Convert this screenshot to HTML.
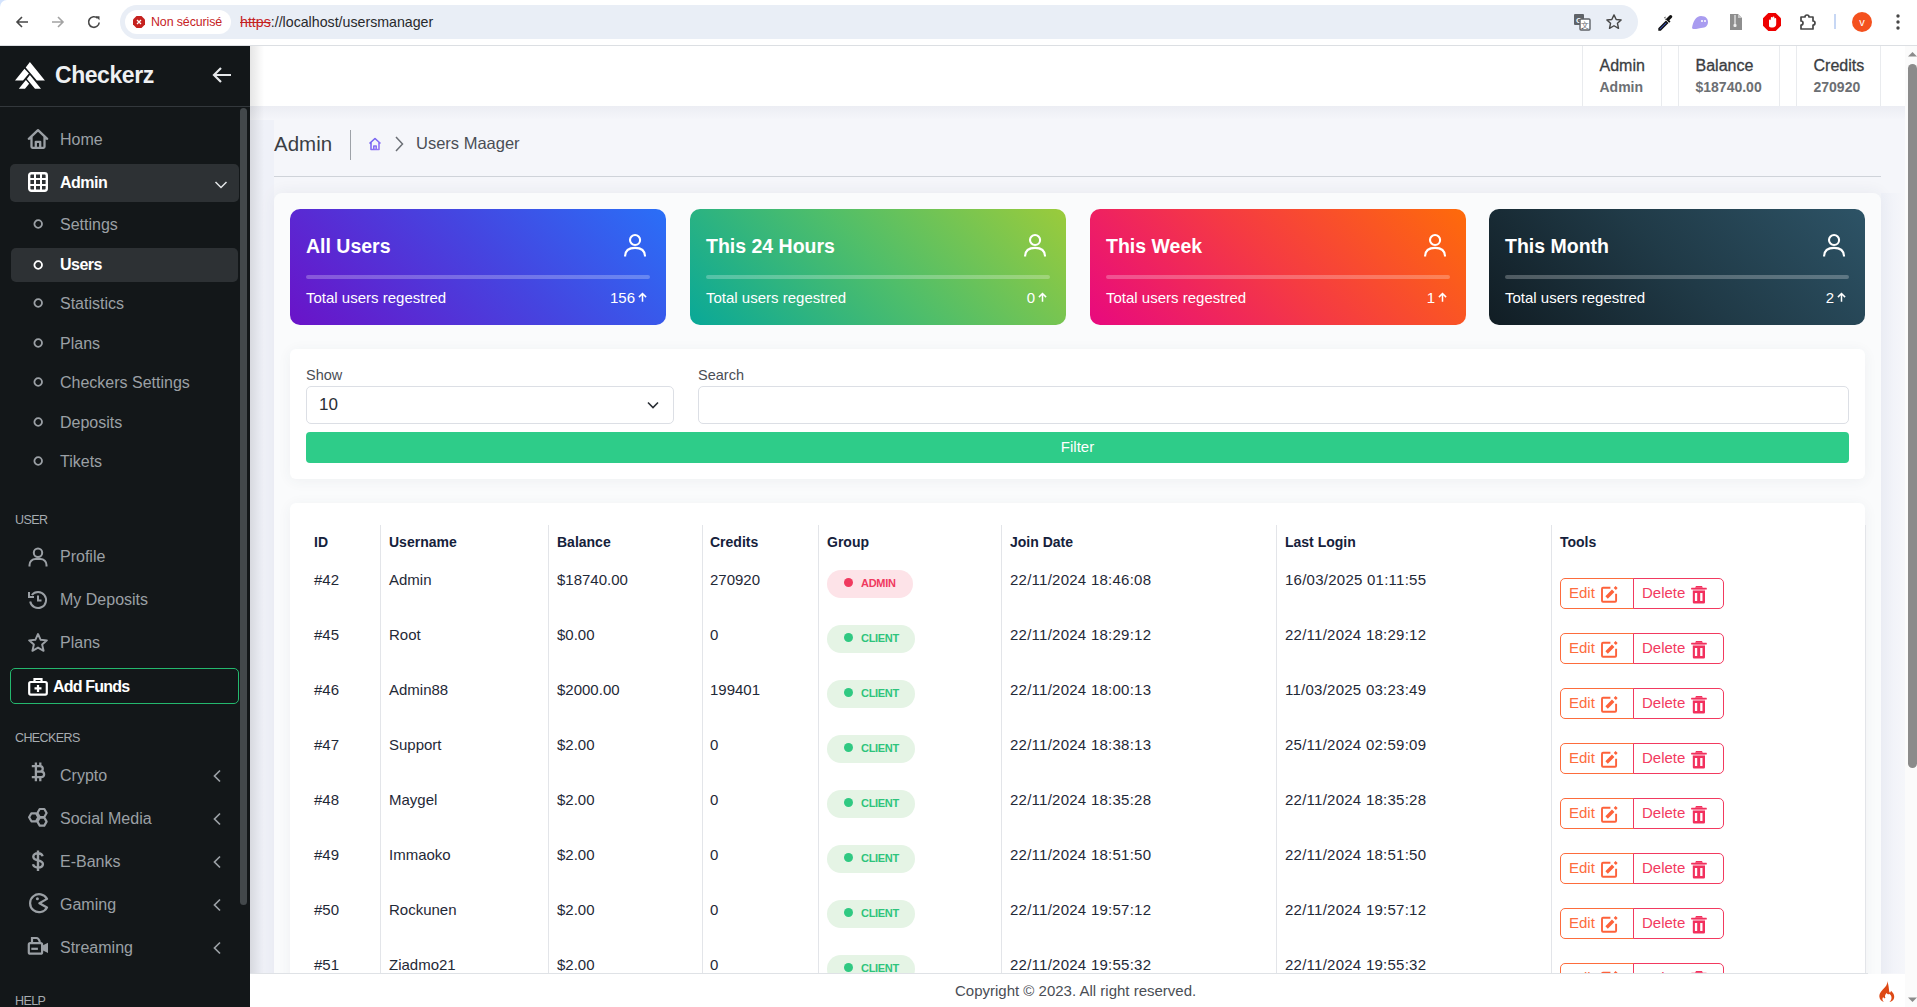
<!DOCTYPE html>
<html><head><meta charset="utf-8">
<style>
*{box-sizing:border-box;margin:0;padding:0}
html,body{width:1917px;height:1007px;overflow:hidden;background:#f5f6fa;font-family:"Liberation Sans",sans-serif}
.a{position:absolute}
#chrome{left:0;top:0;width:1917px;height:46px;background:#fff;border-bottom:1px solid #dcdfe3;border-top-left-radius:7px}
#url{left:120px;top:5px;width:1518px;height:34px;border-radius:17px;background:#e9eef6}
#chip{left:125px;top:10px;width:106px;height:24px;border-radius:12px;background:#fff}
#side{left:0;top:46px;width:250px;height:961px;background:#131719}
#sidehead{left:0;top:0;width:250px;height:61px;border-bottom:1px solid #33383c}
.si{position:absolute;left:10px;width:229px;height:37px;border-radius:5px;color:#9ba0a5;font-size:16px}
.si span{position:absolute;left:50px;top:50%;transform:translateY(-50%);white-space:nowrap}
.si svg{position:absolute}
.act{background:#2d3134;color:#fff;font-weight:bold;letter-spacing:-0.5px}
.sec{position:absolute;left:15px;font-size:12.5px;letter-spacing:-0.6px;color:#a7acb1;margin-top:1px}
#nav{left:250px;top:46px;width:1655px;height:60px;background:#fff}
.ui{position:absolute;top:0;height:60px;border-left:1px solid #e9ebee;border-right:1px solid #e9ebee}
.ui .t{position:absolute;left:16.5px;top:11px;font-size:16px;color:#3a3d42;-webkit-text-stroke:0.3px #3a3d42;white-space:nowrap}
.ui .v{position:absolute;left:16.5px;top:32.5px;font-size:14px;color:#6c6f73;font-weight:bold;white-space:nowrap}
.card{position:absolute;top:209px;width:376px;height:116px;border-radius:10px;color:#fff}
.card .h{position:absolute;left:16px;top:26px;font-size:19.5px;font-weight:bold;white-space:nowrap}
.card .bar{position:absolute;left:16px;top:66px;width:344px;height:4px;border-radius:2px;background:rgba(255,255,255,0.25)}
.card .ft{position:absolute;left:16px;top:80px;font-size:15px;white-space:nowrap}
.card .n{position:absolute;right:19px;top:80px;font-size:15px;white-space:nowrap}
.card svg{position:absolute}
.wc{position:absolute;background:#fff;border-radius:6px;box-shadow:0 2px 14px rgba(50,60,90,0.06)}
.th{position:absolute;top:534px;font-size:14px;font-weight:bold;color:#15213b;white-space:nowrap}
.td{position:absolute;font-size:15px;color:#1f2937;white-space:nowrap}
.vl{position:absolute;top:525px;width:1px;height:449px;background:#e3e5e9}
.bdg{position:absolute;left:827px;height:28px;border-radius:14px;font-size:11px;font-weight:bold;letter-spacing:-0.3px}
.bdg i{position:absolute;left:17px;top:8px;width:9px;height:9px;border-radius:50%}
.bdg b{position:absolute;left:34px;top:7px}
.adm{width:86px;background:#fde3e8;color:#f03a5f}
.adm i{background:#f03a5f}
.cli{width:88px;background:#e5f4e5;color:#2ec47c}
.cli i{background:#30c982}
.eb{position:absolute;left:1560px;width:74px;height:31px;border:1.5px solid #fd6c3d;border-radius:5px 0 0 5px;color:#fd6c3d;font-size:15px}
.db{position:absolute;left:1633px;width:91px;height:31px;border:1.5px solid #f23a60;border-radius:0 5px 5px 0;color:#f23a60;font-size:15px}
.eb span,.db span{position:absolute;left:8px;top:5px}
.eb svg,.db svg{position:absolute}
#pscroll{left:1905px;top:46px;width:12px;height:961px;background:#fbfbfb}
#pthumb{left:1908px;top:64px;width:9px;height:704px;border-radius:4.5px;background:#8b8b8b}
</style></head><body>
<div class="a" style="left:0;top:0;width:10px;height:10px;background:#d3e3fd"></div><div id="chrome" class="a"></div>
<svg class="a" style="left:14px;top:14px" width="16" height="16" viewBox="0 0 16 16"><path d="M14 8H3M8 3L3 8l5 5" fill="none" stroke="#474747" stroke-width="1.6"/></svg>
<svg class="a" style="left:50px;top:14px" width="16" height="16" viewBox="0 0 16 16"><path d="M2 8h11M8 3l5 5-5 5" fill="none" stroke="#a3a3a3" stroke-width="1.6"/></svg>
<svg class="a" style="left:86px;top:14px" width="16" height="16" viewBox="0 0 16 16"><path d="M13.2 8.5A5.3 5.3 0 1 1 11.6 4.2" fill="none" stroke="#474747" stroke-width="1.6"/><path d="M9.5 2.2h4v4z" fill="#474747"/></svg>
<div id="url" class="a"></div>
<div id="chip" class="a"></div>
<svg class="a" style="left:133px;top:16px" width="12" height="12" viewBox="0 0 12 12"><path d="M3.5 0h5L12 3.5v5L8.5 12h-5L0 8.5v-5z" fill="#c5221f"/><path d="M4 4l4 4M8 4l-4 4" stroke="#fff" stroke-width="1.3"/></svg>
<div class="a" style="left:151px;top:15px;font-size:12.4px;color:#c5221f;letter-spacing:-0.1px">Non sécurisé</div>
<div class="a" style="left:240px;top:14px;font-size:14.2px;color:#28292c"><span style="color:#c5221f;text-decoration:line-through">https</span>://localhost/usersmanager</div>
<svg class="a" style="left:1573px;top:13px" width="18" height="18" viewBox="0 0 18 18"><rect x="1" y="1" width="10" height="11" rx="1" fill="#5f6368"/><text x="6" y="10" font-size="8" fill="#fff" font-family="Liberation Sans" text-anchor="middle" font-weight="bold">G</text><rect x="7" y="6" width="10" height="11" rx="1" fill="#fff" stroke="#5f6368" stroke-width="1.4"/><text x="12" y="15" font-size="8" fill="#5f6368" font-family="Liberation Sans" text-anchor="middle">文</text></svg>
<svg class="a" style="left:1605px;top:13px" width="18" height="18" viewBox="0 0 24 24"><path d="M12 2.5l2.9 6.1 6.6.7-4.9 4.5 1.4 6.6L12 17l-6 3.4 1.4-6.6-4.9-4.5 6.6-.7z" fill="none" stroke="#474747" stroke-width="1.9" stroke-linejoin="round"/></svg>
<svg class="a" style="left:1656px;top:13px" width="18" height="18" viewBox="0 0 18 18"><path d="M3 15.5L10 8.5l1.5 1.5-7 7H3z" fill="#3b5bdb" stroke="#111" stroke-width="1.4"/><path d="M9 7l2-2 2.5-2.5a1.6 1.6 0 0 1 2.3 2.3L13.3 7.3l1.2 1.2-1.3 1.3-5-5 1.3-1.3z" fill="#111"/></svg>
<svg class="a" style="left:1691px;top:14px" width="18" height="16" viewBox="0 0 18 16"><path d="M1 14C2 7 5 2 10 2s7 3 7 6-2 6-7 6c-2 0-3 1-5 1S1 15 1 14z" fill="#a99cf0"/><circle cx="11" cy="7" r="1" fill="#fff"/><circle cx="14" cy="7" r="1" fill="#fff"/></svg>
<svg class="a" style="left:1729px;top:13px" width="14" height="18" viewBox="0 0 14 18"><path d="M1 1h8l4 4v12H1z" fill="#8e8e8e"/><path d="M9 1v4h4" fill="#c8c8c8"/><rect x="5" y="2" width="2" height="9" fill="#c8c8c8"/><rect x="4.5" y="11" width="3" height="3" rx="1" fill="#eee"/></svg>
<svg class="a" style="left:1763px;top:13px" width="18" height="18" viewBox="0 0 18 18"><path d="M5.3 0h7.4L18 5.3v7.4L12.7 18H5.3L0 12.7V5.3z" fill="#e00"/><path d="M6 13V7.5a.9.9 0 0 1 1.8 0V5a.9.9 0 0 1 1.8 0v2-2.5a.9.9 0 0 1 1.8 0V6a.9.9 0 0 1 1.8 0v5c0 2-1.5 3.5-3.5 3.5S6 14 6 13z" fill="#fff"/></svg>
<svg class="a" style="left:1799px;top:13px" width="20" height="18" viewBox="0 0 20 18"><path d="M2 4h4a2 2 0 0 1 4 0h4v4a2 2 0 0 1 0 4v4H2V12a2 2 0 0 0 0-4z" fill="none" stroke="#474747" stroke-width="1.7" stroke-linejoin="round"/></svg>
<div class="a" style="left:1834px;top:14px;width:2px;height:15px;background:#c7d7f4"></div>
<div class="a" style="left:1852px;top:12px;width:20px;height:20px;border-radius:50%;background:#f4511e;color:#fff;font-size:11px;text-align:center;line-height:20px">v</div>
<svg class="a" style="left:1895px;top:13px" width="6" height="18" viewBox="0 0 6 18"><circle cx="3" cy="3" r="1.7" fill="#474747"/><circle cx="3" cy="9" r="1.7" fill="#474747"/><circle cx="3" cy="15" r="1.7" fill="#474747"/></svg>
<div id="side" class="a">
  <div id="sidehead" class="a"></div>
<svg class="a" style="left:14px;top:15px" width="32" height="29" viewBox="14 61 32 29"><path d="M29.9 62 L44.9 80.6 L36.8 80.6 L25.7 67.6Z M24.5 68.8 L28.9 73.5 L23 80.6 L15 80.6Z M29.9 75 L41 88.7 L35 88.7 L26.9 79Z M25.9 80 L29.1 83.7 L25 88.7 L18.8 88.7Z" fill="#fff"/></svg>
<div class="a" style="left:55px;top:15.5px;font-size:23px;letter-spacing:-0.45px;font-weight:bold;color:#eef0f2">Checkerz</div>
<svg class="a" style="left:211px;top:19px" width="22" height="20" viewBox="0 0 22 20"><path d="M20 10H3M10 3L3 10l7 7" fill="none" stroke="#e6e8ea" stroke-width="2.2"/></svg>
</div>
<div class="si " style="top:121px;height:37px;"><svg style="left:17px;top:7px" width="22" height="22" viewBox="0 0 22 22"><path d="M1.8 10.8L11 2.2l9.2 8.6M4.5 8.6v10.2a1 1 0 0 0 1 1h11a1 1 0 0 0 1-1V8.6M8.8 19.8v-6h4.4v6" fill="none" stroke="currentColor" stroke-width="2.3" stroke-linejoin="round" stroke-linecap="round"/></svg><span>Home</span></div>
<div class="si act" style="top:164px;height:38px;letter-spacing:-0.5px"><svg style="left:18px;top:8px" width="20" height="20" viewBox="0 0 20 20"><rect x="1.2" y="1.2" width="17.6" height="17.6" rx="2.2" fill="none" stroke="currentColor" stroke-width="2.4"/><path d="M7 1v18M13 1v18M1 7h18M1 13h18" stroke="currentColor" stroke-width="2"/></svg><svg style="left:204px;top:16px" width="14" height="10" viewBox="0 0 14 10"><path d="M1.5 2l5.5 5.5L12.5 2" fill="none" stroke="#e4e6e8" stroke-width="1.5"/></svg><span>Admin</span></div>
<div class="si " style="top:206px;height:37px;"><svg style="left:23px;top:13px" width="10" height="10" viewBox="0 0 10 10"><circle cx="5.2" cy="5" r="3.8" fill="none" stroke="currentColor" stroke-width="1.8"/></svg><span>Settings</span></div>
<div class="si act" style="top:248px;height:34px;left:11px;width:227px"><svg style="left:22px;top:12px" width="10" height="10" viewBox="0 0 10 10"><circle cx="5.2" cy="5" r="3.8" fill="none" stroke="currentColor" stroke-width="1.8"/></svg><span><i style="font-style:normal;position:relative;left:-1px">Users</i></span></div>
<div class="si " style="top:285px;height:37px;"><svg style="left:23px;top:13px" width="10" height="10" viewBox="0 0 10 10"><circle cx="5.2" cy="5" r="3.8" fill="none" stroke="currentColor" stroke-width="1.8"/></svg><span>Statistics</span></div>
<div class="si " style="top:325px;height:37px;"><svg style="left:23px;top:13px" width="10" height="10" viewBox="0 0 10 10"><circle cx="5.2" cy="5" r="3.8" fill="none" stroke="currentColor" stroke-width="1.8"/></svg><span>Plans</span></div>
<div class="si " style="top:364px;height:37px;"><svg style="left:23px;top:13px" width="10" height="10" viewBox="0 0 10 10"><circle cx="5.2" cy="5" r="3.8" fill="none" stroke="currentColor" stroke-width="1.8"/></svg><span>Checkers Settings</span></div>
<div class="si " style="top:404px;height:37px;"><svg style="left:23px;top:13px" width="10" height="10" viewBox="0 0 10 10"><circle cx="5.2" cy="5" r="3.8" fill="none" stroke="currentColor" stroke-width="1.8"/></svg><span>Deposits</span></div>
<div class="si " style="top:443px;height:37px;"><svg style="left:23px;top:13px" width="10" height="10" viewBox="0 0 10 10"><circle cx="5.2" cy="5" r="3.8" fill="none" stroke="currentColor" stroke-width="1.8"/></svg><span>Tikets</span></div>
<div class="sec" style="top:512px">USER</div>
<div class="si " style="top:538px;height:37px;"><svg style="left:17px;top:8px" width="22" height="22" viewBox="0 0 22 22"><circle cx="11" cy="6.8" r="4.2" fill="none" stroke="currentColor" stroke-width="2"/><path d="M2.5 20.5v-1.5a6 6 0 0 1 6-6h5a6 6 0 0 1 6 6v1.5" fill="none" stroke="currentColor" stroke-width="2"/></svg><span>Profile</span></div>
<div class="si " style="top:581px;height:37px;"><svg style="left:17px;top:8px" width="22" height="22" viewBox="0 0 22 22"><path d="M3.2 12.5A8 8 0 1 0 4.8 6" fill="none" stroke="currentColor" stroke-width="2"/><path d="M2 3v5h5" fill="none" stroke="currentColor" stroke-width="2"/><path d="M11 6.5V11.5h3.5" fill="none" stroke="currentColor" stroke-width="2"/></svg><span>My Deposits</span></div>
<div class="si " style="top:624px;height:37px;"><svg style="left:17px;top:8px" width="22" height="22" viewBox="0 0 24 24"><path d="M12 2.2l2.9 6.3 6.8.6-5.2 4.6 1.6 6.8L12 17l-6.1 3.5 1.6-6.8-5.2-4.6 6.8-.6z" fill="none" stroke="currentColor" stroke-width="2.1" stroke-linejoin="round"/></svg><span>Plans</span></div>
<div class="a" style="left:10px;top:668px;width:229px;height:36px;border:1.5px solid #24b86e;border-radius:5px;color:#fff;font-size:16px;font-weight:bold"><svg class="a" style="left:17px;top:8px" width="20" height="19" viewBox="0 0 20 19"><rect x="1.2" y="5" width="17.6" height="12.6" rx="1.5" fill="none" stroke="#fff" stroke-width="2.2"/><path d="M6.5 5V2h7v3" fill="none" stroke="#fff" stroke-width="2.2"/><path d="M10 8v7M6.5 11.3h7" stroke="#fff" stroke-width="2.2"/></svg><span class="a" style="left:42px;top:9px;letter-spacing:-0.8px">Add Funds</span></div>
<div class="sec" style="top:730px">CHECKERS</div>
<div class="si " style="top:757px;height:37px;"><svg style="left:21px;top:5px" width="16" height="20" viewBox="0 0 16 20"><path d="M0.8 4.1H9A2.75 2.75 0 0 1 9 9.6H4.9M9 9.6H10.3A2.8 2.8 0 0 1 10.3 15.2H0.8M4.9 4.1V15.2M4.9 0.5V4.1M9.3 0.5V4.1M4.9 15.2V19.3M9.3 15.2V19.3" fill="none" stroke="currentColor" stroke-width="2.3"/></svg><svg style="left:202px;top:12px" width="10" height="14" viewBox="0 0 10 14"><path d="M8 1.5L2.5 7 8 12.5" fill="none" stroke="currentColor" stroke-width="1.7"/></svg><span>Crypto</span></div>
<div class="si " style="top:800px;height:37px;"><svg style="left:17px;top:6px" width="22" height="22" viewBox="0 0 22 22"><path d="M10.40 7.00L12.70 3.02L17.30 3.02L19.60 7.00L17.30 10.98L12.70 10.98ZM2.10 11.30L4.40 7.32L9.00 7.32L11.30 11.30L9.00 15.28L4.40 15.28ZM10.40 15.60L12.70 11.62L17.30 11.62L19.60 15.60L17.30 19.58L12.70 19.58Z" fill="none" stroke="currentColor" stroke-width="2.2" stroke-linejoin="round"/></svg><svg style="left:202px;top:12px" width="10" height="14" viewBox="0 0 10 14"><path d="M8 1.5L2.5 7 8 12.5" fill="none" stroke="currentColor" stroke-width="1.7"/></svg><span>Social Media</span></div>
<div class="si " style="top:843px;height:37px;"><svg style="left:18px;top:7px" width="20" height="22" viewBox="0 0 20 22"><path d="M14.6 6.3C14.1 4.4 12.4 3.3 10 3.3 7.2 3.3 5.3 4.6 5.3 6.7c0 4.8 9.6 2.6 9.6 7.3 0 2.2-2 3.5-4.9 3.5-2.8 0-4.5-1.2-5-3.2M10 .6v20.4" fill="none" stroke="currentColor" stroke-width="2.4"/></svg><svg style="left:202px;top:12px" width="10" height="14" viewBox="0 0 10 14"><path d="M8 1.5L2.5 7 8 12.5" fill="none" stroke="currentColor" stroke-width="1.7"/></svg><span>E-Banks</span></div>
<div class="si " style="top:886px;height:37px;"><svg style="left:17px;top:6px" width="22" height="22" viewBox="0 0 22 22"><path d="M20 6.9A9 9 0 1 0 20 15.5L12.4 11.2Z" fill="none" stroke="currentColor" stroke-width="2.2" stroke-linejoin="round"/><circle cx="10.4" cy="6.8" r="1.5" fill="currentColor"/></svg><svg style="left:202px;top:12px" width="10" height="14" viewBox="0 0 10 14"><path d="M8 1.5L2.5 7 8 12.5" fill="none" stroke="currentColor" stroke-width="1.7"/></svg><span>Gaming</span></div>
<div class="si " style="top:929px;height:37px;"><svg style="left:17px;top:6px" width="22" height="22" viewBox="0 0 22 22"><rect x="1.8" y="8.1" width="13.3" height="10.6" rx="1.5" fill="none" stroke="currentColor" stroke-width="2.2"/><path d="M5 8V3h4.3c1.7 0 3 1.3 3.6 4.6" fill="none" stroke="currentColor" stroke-width="2.2"/><path d="M15.5 10.6l5.5-2.8v10.2l-5.5-2.8z" fill="currentColor"/><rect x="4.3" y="12.7" width="6.6" height="2.2" fill="currentColor"/></svg><svg style="left:202px;top:12px" width="10" height="14" viewBox="0 0 10 14"><path d="M8 1.5L2.5 7 8 12.5" fill="none" stroke="currentColor" stroke-width="1.7"/></svg><span>Streaming</span></div>
<div class="sec" style="top:993px">HELP</div>
<div class="a" style="left:240px;top:108px;width:7px;height:797px;border-radius:3.5px;background:#43484b"></div>
<div id="nav" class="a"></div>
<div class="ui" style="left:1582px;top:46px;width:80px"><div class="t">Admin</div><div class="v">Admin</div></div>
<div class="ui" style="left:1678px;top:46px;width:102px"><div class="t">Balance</div><div class="v">$18740.00</div></div>
<div class="ui" style="left:1796px;top:46px;width:85px"><div class="t">Credits</div><div class="v">270920</div></div>
<div class="a" style="left:274px;top:132px;font-size:20.5px;color:#3b3e44">Admin</div>
<div class="a" style="left:350px;top:130px;width:1px;height:30px;background:#9ea2a8"></div>
<svg class="a" style="left:367px;top:136px" width="16" height="16" viewBox="0 0 16 16"><defs><linearGradient id="hg" x1="0" y1="0" x2="1" y2="1"><stop offset="0" stop-color="#6a5cf0"/><stop offset="1" stop-color="#9b7bf5"/></linearGradient></defs><path d="M2.5 7.5L8 2.5l5.5 5M4 6.5V13.5h8V6.5M6.8 13.5V10h2.4v3.5" fill="none" stroke="url(#hg)" stroke-width="1.6" stroke-linejoin="round"/></svg>
<svg class="a" style="left:393px;top:135px" width="12" height="18" viewBox="0 0 12 18"><path d="M3 2l6.5 7L3 16" fill="none" stroke="#6b6f75" stroke-width="1.5"/></svg>
<div class="a" style="left:416px;top:134px;font-size:16.5px;color:#4a4e55">Users Maager</div>
<div class="a" style="left:274px;top:176px;width:1607px;height:1px;background:#cfd3d9"></div>
<div class="a" style="left:274px;top:193px;width:1607px;height:814px;background:#fafbfc;border-radius:8px 8px 0 0;box-shadow:0 0 16px rgba(40,50,90,0.07)"></div>
<div class="a" style="left:250px;top:120px;width:24px;height:853px;background:rgba(228,232,243,0.35)"></div>
<div class="a" style="left:1881px;top:193px;width:24px;height:780px;background:linear-gradient(90deg,rgba(228,232,243,0.4),rgba(247,248,251,0.2))"></div>
<div class="a" style="left:250px;top:106px;width:1655px;height:14px;background:linear-gradient(180deg,rgba(30,40,90,0.045),rgba(30,40,90,0))"></div>
<div class="card" style="left:290px;background:linear-gradient(225deg,#2a6ff7 0%,#4545e0 45%,#6a13c8 100%)"><div class="h">All Users</div><svg style="left:334px;top:24px" width="24" height="24" viewBox="0 0 24 24"><circle cx="11.05" cy="7" r="5.05" fill="none" stroke="#fff" stroke-width="2.1"/><path d="M1.1 23.6C1.1 17.6 5 14.9 11.05 14.9S21 17.6 21 23.6" fill="none" stroke="#fff" stroke-width="2.1"/></svg><div class="bar"></div><div class="ft">Total users regestred</div><div class="n">156<svg style="position:relative;display:inline-block;vertical-align:1px;margin-left:3px" width="9" height="10" viewBox="0 0 9 10"><path d="M4.5 9.8V1.5M0.9 5.1L4.5 1.5 8.1 5.1" fill="none" stroke="#fff" stroke-width="1.5"/></svg></div></div>
<div class="card" style="left:690px;background:linear-gradient(225deg,#9bcb3b 0%,#4fbe6a 50%,#09a898 100%)"><div class="h">This 24 Hours</div><svg style="left:334px;top:24px" width="24" height="24" viewBox="0 0 24 24"><circle cx="11.05" cy="7" r="5.05" fill="none" stroke="#fff" stroke-width="2.1"/><path d="M1.1 23.6C1.1 17.6 5 14.9 11.05 14.9S21 17.6 21 23.6" fill="none" stroke="#fff" stroke-width="2.1"/></svg><div class="bar"></div><div class="ft">Total users regestred</div><div class="n">0<svg style="position:relative;display:inline-block;vertical-align:1px;margin-left:3px" width="9" height="10" viewBox="0 0 9 10"><path d="M4.5 9.8V1.5M0.9 5.1L4.5 1.5 8.1 5.1" fill="none" stroke="#fff" stroke-width="1.5"/></svg></div></div>
<div class="card" style="left:1090px;background:linear-gradient(225deg,#fe6b0a 0%,#f53b42 50%,#e8097f 100%)"><div class="h">This Week</div><svg style="left:334px;top:24px" width="24" height="24" viewBox="0 0 24 24"><circle cx="11.05" cy="7" r="5.05" fill="none" stroke="#fff" stroke-width="2.1"/><path d="M1.1 23.6C1.1 17.6 5 14.9 11.05 14.9S21 17.6 21 23.6" fill="none" stroke="#fff" stroke-width="2.1"/></svg><div class="bar"></div><div class="ft">Total users regestred</div><div class="n">1<svg style="position:relative;display:inline-block;vertical-align:1px;margin-left:3px" width="9" height="10" viewBox="0 0 9 10"><path d="M4.5 9.8V1.5M0.9 5.1L4.5 1.5 8.1 5.1" fill="none" stroke="#fff" stroke-width="1.5"/></svg></div></div>
<div class="card" style="left:1489px;background:linear-gradient(225deg,#2d5366 0%,#203a47 50%,#111d24 100%)"><div class="h">This Month</div><svg style="left:334px;top:24px" width="24" height="24" viewBox="0 0 24 24"><circle cx="11.05" cy="7" r="5.05" fill="none" stroke="#fff" stroke-width="2.1"/><path d="M1.1 23.6C1.1 17.6 5 14.9 11.05 14.9S21 17.6 21 23.6" fill="none" stroke="#fff" stroke-width="2.1"/></svg><div class="bar"></div><div class="ft">Total users regestred</div><div class="n">2<svg style="position:relative;display:inline-block;vertical-align:1px;margin-left:3px" width="9" height="10" viewBox="0 0 9 10"><path d="M4.5 9.8V1.5M0.9 5.1L4.5 1.5 8.1 5.1" fill="none" stroke="#fff" stroke-width="1.5"/></svg></div></div>
<div class="wc" style="left:290px;top:349px;width:1575px;height:130px"></div>
<div class="a" style="left:306px;top:367px;font-size:14.5px;color:#4a4e55">Show</div>
<div class="a" style="left:698px;top:367px;font-size:14.5px;color:#4a4e55">Search</div>
<div class="a" style="left:306px;top:386px;width:368px;height:38px;border:1px solid #dcdfe5;border-radius:5px;background:#fff"></div>
<div class="a" style="left:319px;top:395px;font-size:17px;color:#2a2e35">10</div>
<svg class="a" style="left:646px;top:399.5px" width="14" height="10" viewBox="0 0 14 10"><path d="M2 2.5l5 5 5-5" fill="none" stroke="#2a2e35" stroke-width="1.6"/></svg>
<div class="a" style="left:698px;top:386px;width:1151px;height:38px;border:1px solid #dcdfe5;border-radius:5px;background:#fff"></div>
<div class="a" style="left:306px;top:432px;width:1543px;height:31px;border-radius:4px;background:#2ecc89;color:#fff;font-size:15px;text-align:center;line-height:29px">Filter</div>
<div class="wc" style="left:290px;top:503px;width:1575px;height:520px"></div>
<div class="vl" style="left:380px"></div><div class="vl" style="left:548px"></div><div class="vl" style="left:702px"></div><div class="vl" style="left:818px"></div><div class="vl" style="left:1001px"></div><div class="vl" style="left:1276px"></div><div class="vl" style="left:1551px"></div><div class="vl" style="left:1865px"></div>
<div class="th" style="left:314px">ID</div><div class="th" style="left:389px">Username</div><div class="th" style="left:557px">Balance</div><div class="th" style="left:710px">Credits</div><div class="th" style="left:827px">Group</div><div class="th" style="left:1010px">Join Date</div><div class="th" style="left:1285px">Last Login</div><div class="th" style="left:1560px">Tools</div>
<div class="td" style="left:314px;top:571px">#42</div><div class="td" style="left:389px;top:571px">Admin</div><div class="td" style="left:557px;top:571px">$18740.00</div><div class="td" style="left:710px;top:571px">270920</div><div class="bdg adm" style="top:570px"><i></i><b>ADMIN</b></div><div class="td" style="left:1010px;top:571px;letter-spacing:0.25px">22/11/2024 18:46:08</div><div class="td" style="left:1285px;top:571px;letter-spacing:0.25px">16/03/2025 01:11:55</div><div class="eb" style="top:578px"><span>Edit</span><svg style="left:36.5px;top:2.5px" width="24" height="24" viewBox="0 0 24 24"><path d="M12.4 5.7H5a1 1 0 0 0-1 1V18.8a1 1 0 0 0 1 1H17.1a1 1 0 0 0 1-1V11.7" fill="none" stroke="#fd623b" stroke-width="1.9"/><path d="M7.38 14.32L9.82 16.68 16.42 9.88 13.98 7.52Z M15.72 5.9L17.88 7.98 19.68 6.1 17.52 4.02Z" fill="#fd623b"/></svg></div><div class="db" style="top:578px"><span>Delete</span><svg style="left:53.5px;top:2.5px" width="24" height="24" viewBox="0 0 24 24"><rect x="3.1" y="5.7" width="15.7" height="1.9" rx=".5" fill="#f2305d"/><path d="M7.1 5.8L8 3.9H14L14.8 5.8Z" fill="#f2305d"/><rect x="4.8" y="7.6" width="12.2" height="1.45" fill="#f2305d" opacity=".55"/><path d="M4.8 9.05H17V20.2a1.2 1.2 0 0 1-1.2 1.2H6a1.2 1.2 0 0 1-1.2-1.2ZM6.9 11v8h2.3v-8ZM12.2 11v8h2.3v-8Z" fill="#f2305d" fill-rule="evenodd"/></svg></div>
<div class="td" style="left:314px;top:626px">#45</div><div class="td" style="left:389px;top:626px">Root</div><div class="td" style="left:557px;top:626px">$0.00</div><div class="td" style="left:710px;top:626px">0</div><div class="bdg cli" style="top:625px"><i></i><b>CLIENT</b></div><div class="td" style="left:1010px;top:626px;letter-spacing:0.25px">22/11/2024 18:29:12</div><div class="td" style="left:1285px;top:626px;letter-spacing:0.25px">22/11/2024 18:29:12</div><div class="eb" style="top:633px"><span>Edit</span><svg style="left:36.5px;top:2.5px" width="24" height="24" viewBox="0 0 24 24"><path d="M12.4 5.7H5a1 1 0 0 0-1 1V18.8a1 1 0 0 0 1 1H17.1a1 1 0 0 0 1-1V11.7" fill="none" stroke="#fd623b" stroke-width="1.9"/><path d="M7.38 14.32L9.82 16.68 16.42 9.88 13.98 7.52Z M15.72 5.9L17.88 7.98 19.68 6.1 17.52 4.02Z" fill="#fd623b"/></svg></div><div class="db" style="top:633px"><span>Delete</span><svg style="left:53.5px;top:2.5px" width="24" height="24" viewBox="0 0 24 24"><rect x="3.1" y="5.7" width="15.7" height="1.9" rx=".5" fill="#f2305d"/><path d="M7.1 5.8L8 3.9H14L14.8 5.8Z" fill="#f2305d"/><rect x="4.8" y="7.6" width="12.2" height="1.45" fill="#f2305d" opacity=".55"/><path d="M4.8 9.05H17V20.2a1.2 1.2 0 0 1-1.2 1.2H6a1.2 1.2 0 0 1-1.2-1.2ZM6.9 11v8h2.3v-8ZM12.2 11v8h2.3v-8Z" fill="#f2305d" fill-rule="evenodd"/></svg></div>
<div class="td" style="left:314px;top:681px">#46</div><div class="td" style="left:389px;top:681px">Admin88</div><div class="td" style="left:557px;top:681px">$2000.00</div><div class="td" style="left:710px;top:681px">199401</div><div class="bdg cli" style="top:680px"><i></i><b>CLIENT</b></div><div class="td" style="left:1010px;top:681px;letter-spacing:0.25px">22/11/2024 18:00:13</div><div class="td" style="left:1285px;top:681px;letter-spacing:0.25px">11/03/2025 03:23:49</div><div class="eb" style="top:688px"><span>Edit</span><svg style="left:36.5px;top:2.5px" width="24" height="24" viewBox="0 0 24 24"><path d="M12.4 5.7H5a1 1 0 0 0-1 1V18.8a1 1 0 0 0 1 1H17.1a1 1 0 0 0 1-1V11.7" fill="none" stroke="#fd623b" stroke-width="1.9"/><path d="M7.38 14.32L9.82 16.68 16.42 9.88 13.98 7.52Z M15.72 5.9L17.88 7.98 19.68 6.1 17.52 4.02Z" fill="#fd623b"/></svg></div><div class="db" style="top:688px"><span>Delete</span><svg style="left:53.5px;top:2.5px" width="24" height="24" viewBox="0 0 24 24"><rect x="3.1" y="5.7" width="15.7" height="1.9" rx=".5" fill="#f2305d"/><path d="M7.1 5.8L8 3.9H14L14.8 5.8Z" fill="#f2305d"/><rect x="4.8" y="7.6" width="12.2" height="1.45" fill="#f2305d" opacity=".55"/><path d="M4.8 9.05H17V20.2a1.2 1.2 0 0 1-1.2 1.2H6a1.2 1.2 0 0 1-1.2-1.2ZM6.9 11v8h2.3v-8ZM12.2 11v8h2.3v-8Z" fill="#f2305d" fill-rule="evenodd"/></svg></div>
<div class="td" style="left:314px;top:736px">#47</div><div class="td" style="left:389px;top:736px">Support</div><div class="td" style="left:557px;top:736px">$2.00</div><div class="td" style="left:710px;top:736px">0</div><div class="bdg cli" style="top:735px"><i></i><b>CLIENT</b></div><div class="td" style="left:1010px;top:736px;letter-spacing:0.25px">22/11/2024 18:38:13</div><div class="td" style="left:1285px;top:736px;letter-spacing:0.25px">25/11/2024 02:59:09</div><div class="eb" style="top:743px"><span>Edit</span><svg style="left:36.5px;top:2.5px" width="24" height="24" viewBox="0 0 24 24"><path d="M12.4 5.7H5a1 1 0 0 0-1 1V18.8a1 1 0 0 0 1 1H17.1a1 1 0 0 0 1-1V11.7" fill="none" stroke="#fd623b" stroke-width="1.9"/><path d="M7.38 14.32L9.82 16.68 16.42 9.88 13.98 7.52Z M15.72 5.9L17.88 7.98 19.68 6.1 17.52 4.02Z" fill="#fd623b"/></svg></div><div class="db" style="top:743px"><span>Delete</span><svg style="left:53.5px;top:2.5px" width="24" height="24" viewBox="0 0 24 24"><rect x="3.1" y="5.7" width="15.7" height="1.9" rx=".5" fill="#f2305d"/><path d="M7.1 5.8L8 3.9H14L14.8 5.8Z" fill="#f2305d"/><rect x="4.8" y="7.6" width="12.2" height="1.45" fill="#f2305d" opacity=".55"/><path d="M4.8 9.05H17V20.2a1.2 1.2 0 0 1-1.2 1.2H6a1.2 1.2 0 0 1-1.2-1.2ZM6.9 11v8h2.3v-8ZM12.2 11v8h2.3v-8Z" fill="#f2305d" fill-rule="evenodd"/></svg></div>
<div class="td" style="left:314px;top:791px">#48</div><div class="td" style="left:389px;top:791px">Maygel</div><div class="td" style="left:557px;top:791px">$2.00</div><div class="td" style="left:710px;top:791px">0</div><div class="bdg cli" style="top:790px"><i></i><b>CLIENT</b></div><div class="td" style="left:1010px;top:791px;letter-spacing:0.25px">22/11/2024 18:35:28</div><div class="td" style="left:1285px;top:791px;letter-spacing:0.25px">22/11/2024 18:35:28</div><div class="eb" style="top:798px"><span>Edit</span><svg style="left:36.5px;top:2.5px" width="24" height="24" viewBox="0 0 24 24"><path d="M12.4 5.7H5a1 1 0 0 0-1 1V18.8a1 1 0 0 0 1 1H17.1a1 1 0 0 0 1-1V11.7" fill="none" stroke="#fd623b" stroke-width="1.9"/><path d="M7.38 14.32L9.82 16.68 16.42 9.88 13.98 7.52Z M15.72 5.9L17.88 7.98 19.68 6.1 17.52 4.02Z" fill="#fd623b"/></svg></div><div class="db" style="top:798px"><span>Delete</span><svg style="left:53.5px;top:2.5px" width="24" height="24" viewBox="0 0 24 24"><rect x="3.1" y="5.7" width="15.7" height="1.9" rx=".5" fill="#f2305d"/><path d="M7.1 5.8L8 3.9H14L14.8 5.8Z" fill="#f2305d"/><rect x="4.8" y="7.6" width="12.2" height="1.45" fill="#f2305d" opacity=".55"/><path d="M4.8 9.05H17V20.2a1.2 1.2 0 0 1-1.2 1.2H6a1.2 1.2 0 0 1-1.2-1.2ZM6.9 11v8h2.3v-8ZM12.2 11v8h2.3v-8Z" fill="#f2305d" fill-rule="evenodd"/></svg></div>
<div class="td" style="left:314px;top:846px">#49</div><div class="td" style="left:389px;top:846px">Immaoko</div><div class="td" style="left:557px;top:846px">$2.00</div><div class="td" style="left:710px;top:846px">0</div><div class="bdg cli" style="top:845px"><i></i><b>CLIENT</b></div><div class="td" style="left:1010px;top:846px;letter-spacing:0.25px">22/11/2024 18:51:50</div><div class="td" style="left:1285px;top:846px;letter-spacing:0.25px">22/11/2024 18:51:50</div><div class="eb" style="top:853px"><span>Edit</span><svg style="left:36.5px;top:2.5px" width="24" height="24" viewBox="0 0 24 24"><path d="M12.4 5.7H5a1 1 0 0 0-1 1V18.8a1 1 0 0 0 1 1H17.1a1 1 0 0 0 1-1V11.7" fill="none" stroke="#fd623b" stroke-width="1.9"/><path d="M7.38 14.32L9.82 16.68 16.42 9.88 13.98 7.52Z M15.72 5.9L17.88 7.98 19.68 6.1 17.52 4.02Z" fill="#fd623b"/></svg></div><div class="db" style="top:853px"><span>Delete</span><svg style="left:53.5px;top:2.5px" width="24" height="24" viewBox="0 0 24 24"><rect x="3.1" y="5.7" width="15.7" height="1.9" rx=".5" fill="#f2305d"/><path d="M7.1 5.8L8 3.9H14L14.8 5.8Z" fill="#f2305d"/><rect x="4.8" y="7.6" width="12.2" height="1.45" fill="#f2305d" opacity=".55"/><path d="M4.8 9.05H17V20.2a1.2 1.2 0 0 1-1.2 1.2H6a1.2 1.2 0 0 1-1.2-1.2ZM6.9 11v8h2.3v-8ZM12.2 11v8h2.3v-8Z" fill="#f2305d" fill-rule="evenodd"/></svg></div>
<div class="td" style="left:314px;top:901px">#50</div><div class="td" style="left:389px;top:901px">Rockunen</div><div class="td" style="left:557px;top:901px">$2.00</div><div class="td" style="left:710px;top:901px">0</div><div class="bdg cli" style="top:900px"><i></i><b>CLIENT</b></div><div class="td" style="left:1010px;top:901px;letter-spacing:0.25px">22/11/2024 19:57:12</div><div class="td" style="left:1285px;top:901px;letter-spacing:0.25px">22/11/2024 19:57:12</div><div class="eb" style="top:908px"><span>Edit</span><svg style="left:36.5px;top:2.5px" width="24" height="24" viewBox="0 0 24 24"><path d="M12.4 5.7H5a1 1 0 0 0-1 1V18.8a1 1 0 0 0 1 1H17.1a1 1 0 0 0 1-1V11.7" fill="none" stroke="#fd623b" stroke-width="1.9"/><path d="M7.38 14.32L9.82 16.68 16.42 9.88 13.98 7.52Z M15.72 5.9L17.88 7.98 19.68 6.1 17.52 4.02Z" fill="#fd623b"/></svg></div><div class="db" style="top:908px"><span>Delete</span><svg style="left:53.5px;top:2.5px" width="24" height="24" viewBox="0 0 24 24"><rect x="3.1" y="5.7" width="15.7" height="1.9" rx=".5" fill="#f2305d"/><path d="M7.1 5.8L8 3.9H14L14.8 5.8Z" fill="#f2305d"/><rect x="4.8" y="7.6" width="12.2" height="1.45" fill="#f2305d" opacity=".55"/><path d="M4.8 9.05H17V20.2a1.2 1.2 0 0 1-1.2 1.2H6a1.2 1.2 0 0 1-1.2-1.2ZM6.9 11v8h2.3v-8ZM12.2 11v8h2.3v-8Z" fill="#f2305d" fill-rule="evenodd"/></svg></div>
<div class="td" style="left:314px;top:956px">#51</div><div class="td" style="left:389px;top:956px">Ziadmo21</div><div class="td" style="left:557px;top:956px">$2.00</div><div class="td" style="left:710px;top:956px">0</div><div class="bdg cli" style="top:955px"><i></i><b>CLIENT</b></div><div class="td" style="left:1010px;top:956px;letter-spacing:0.25px">22/11/2024 19:55:32</div><div class="td" style="left:1285px;top:956px;letter-spacing:0.25px">22/11/2024 19:55:32</div><div class="eb" style="top:963px"><span>Edit</span><svg style="left:36.5px;top:2.5px" width="24" height="24" viewBox="0 0 24 24"><path d="M12.4 5.7H5a1 1 0 0 0-1 1V18.8a1 1 0 0 0 1 1H17.1a1 1 0 0 0 1-1V11.7" fill="none" stroke="#fd623b" stroke-width="1.9"/><path d="M7.38 14.32L9.82 16.68 16.42 9.88 13.98 7.52Z M15.72 5.9L17.88 7.98 19.68 6.1 17.52 4.02Z" fill="#fd623b"/></svg></div><div class="db" style="top:963px"><span>Delete</span><svg style="left:53.5px;top:2.5px" width="24" height="24" viewBox="0 0 24 24"><rect x="3.1" y="5.7" width="15.7" height="1.9" rx=".5" fill="#f2305d"/><path d="M7.1 5.8L8 3.9H14L14.8 5.8Z" fill="#f2305d"/><rect x="4.8" y="7.6" width="12.2" height="1.45" fill="#f2305d" opacity=".55"/><path d="M4.8 9.05H17V20.2a1.2 1.2 0 0 1-1.2 1.2H6a1.2 1.2 0 0 1-1.2-1.2ZM6.9 11v8h2.3v-8ZM12.2 11v8h2.3v-8Z" fill="#f2305d" fill-rule="evenodd"/></svg></div>
<div class="a" style="left:250px;top:973px;width:1618px;height:34px;background:#fff;border-top:1px solid #dfe2e6"></div>
<div class="a" style="left:1868px;top:974px;width:37px;height:33px;background:#fff"></div>
<div class="a" style="left:955px;top:981.5px;font-size:15px;color:#4a4e55">Copyright © 2023. All right reserved.</div>
<svg class="a" style="left:1878px;top:981px" width="17" height="21" viewBox="0 0 16 20"><path d="M8.5 0C9.5 3 7 5.5 4.5 8S1 12.5 1.2 15C1.5 17.8 3.5 19.3 5.5 20C4 18.5 3.6 16.8 4.8 15.2C5.3 16.3 6.3 16.7 7 16.3C6 14.5 6.8 12.5 8.2 11.4C8.7 12.6 10 13 11 12.3C13 14 13.8 17.3 10.8 20C13.8 19.4 15.6 17.2 15.3 14.2C15 11.5 13 10 12.2 9.2C12.2 10.2 11.7 10.9 11 11C10 8.5 10.5 4 8.5 0Z" fill="#dd4814"/></svg>
<div class="a" style="left:250px;top:46px;width:14px;height:927px;background:linear-gradient(90deg,rgba(0,0,0,0.1),rgba(0,0,0,0))"></div>
<div id="pscroll" class="a"></div><div id="pthumb" class="a"></div>
<svg class="a" style="left:1908px;top:51px" width="9" height="6" viewBox="0 0 9 6"><path d="M0 5.5L4.5 1 9 5.5z" fill="#8b8b8b"/></svg>
<svg class="a" style="left:1908px;top:997px" width="9" height="6" viewBox="0 0 9 6"><path d="M0 .5L4.5 5 9 .5z" fill="#8b8b8b"/></svg>
</body></html>
